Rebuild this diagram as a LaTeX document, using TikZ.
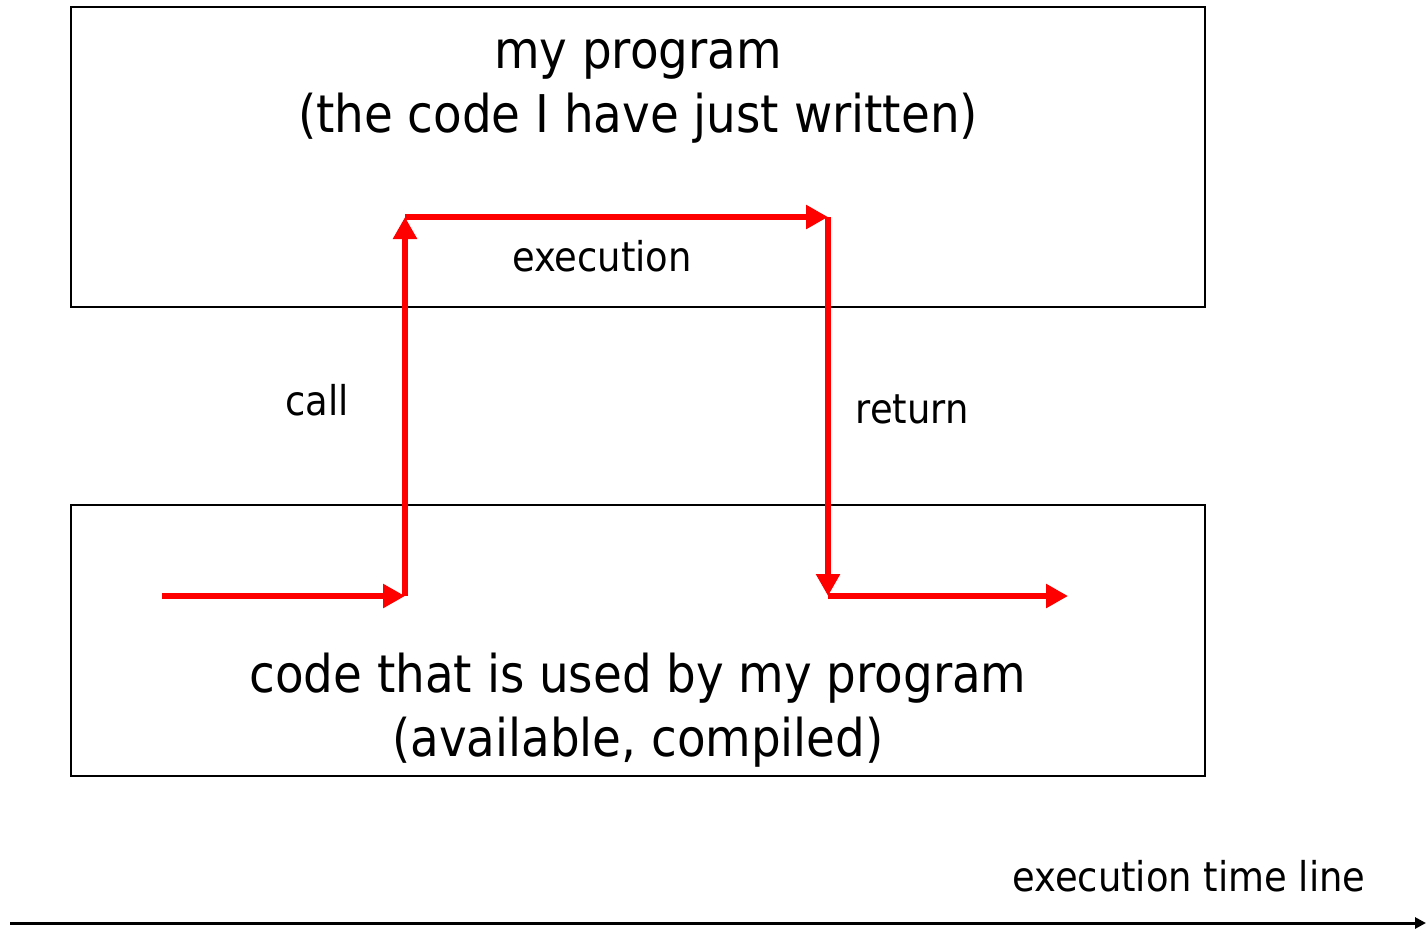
\documentclass[tikz,border=0pt]{standalone}
\usepackage{fontspec}
\setmainfont{DejaVu Sans Condensed}
\usetikzlibrary{arrows.meta,positioning}
\definecolor{flowred}{RGB}{255,0,0}
\tikzset{
  block/.style={draw=black,line width=1.5pt,minimum width=1134pt,inner sep=0pt},
  bigtext/.style={font=\fontsize{52}{64}\selectfont,align=center,inner sep=0pt},
  smalltext/.style={font=\fontsize{41}{48}\selectfont,inner sep=0pt},
  flow/.style={draw=flowred,line width=6pt,-{Triangle[length=22pt,width=23pt]}},
  timeline/.style={draw=black,line width=3pt,-{Triangle[length=11pt,width=11pt]}},
}
\begin{document}
\begin{tikzpicture}[x=1pt,y=-1pt]
  \useasboundingbox (0,0) rectangle (1426,930);
  % the two code blocks
  \node[block,minimum height=300pt] (mine) at (638,157) {};
  \node[block,minimum height=271pt] (lib) at (638,640.5) {};
  \node[bigtext] (minetext) at (638,91) {my program\\(the code I have just written)};
  \node[bigtext] (libtext) at (638,710) {code that is used by my program\\(available, compiled)};
  % path of control
  \coordinate (start) at (162,596);
  \coordinate (callpt) at (405,596);
  \coordinate (entry) at (405,217);
  \coordinate (exit) at (828,217);
  \coordinate (retpt) at (828,596);
  \coordinate (finish) at (1068,596);
  \draw[flow] (start) -- (callpt);
  \draw[flow] (callpt) -- (entry);
  \draw[flow] (entry) -- (exit);
  \draw[flow] (exit) -- (retpt);
  \draw[flow] (retpt) -- (finish);
  \node[smalltext] (exec) at (602,256) {execution};
  \node[smalltext] (call) at (317,400) {call};
  \node[smalltext] (ret) at (912,409) {return};
  % time axis
  \coordinate (t0) at (10,923);
  \coordinate (t1) at (1426,923);
  \draw[timeline] (t0) -- (t1);
  \node[smalltext] (timelbl) at (1189,876) {execution time line};
\end{tikzpicture}
\end{document}
